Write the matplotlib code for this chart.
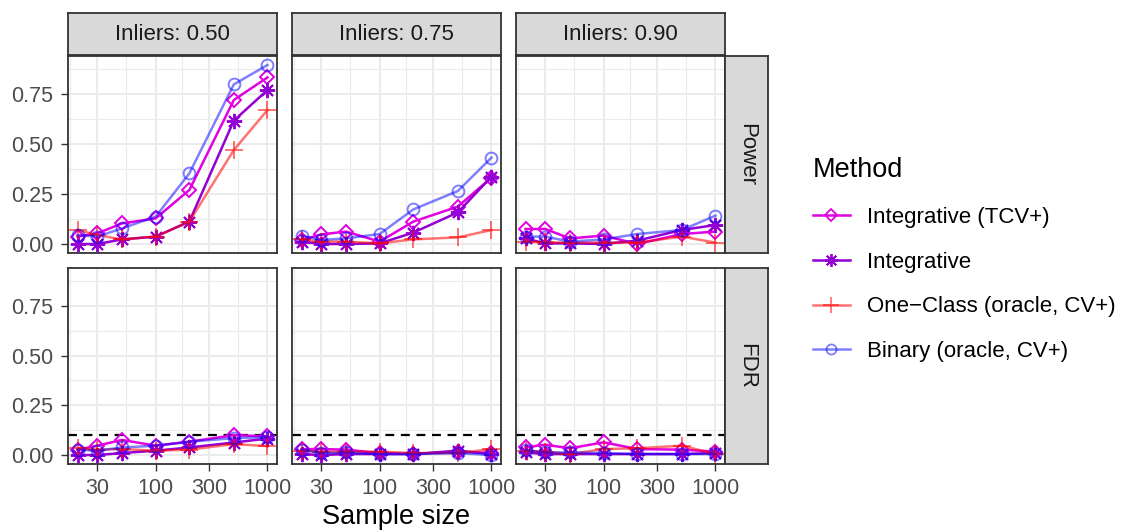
import numpy as np
import matplotlib
matplotlib.use("Agg")
import matplotlib.pyplot as plt
from matplotlib.lines import Line2D

plt.rcParams['font.family'] = ['Liberation Sans', 'DejaVu Sans']

# DATA
sample_sizes = [20, 30, 50, 100, 200, 500, 1000]
inliers = ["0.50", "0.75", "0.90"]
metrics = ["Power", "FDR"]
methods = ["Integrative (TCV+)", "Integrative", "One\u2212Class (oracle, CV+)", "Binary (oracle, CV+)"]

# Power, one list per inlier proportion
power_tcv = [[0.037, 0.053, 0.103, 0.128, 0.27, 0.72, 0.833],
             [0.02, 0.048, 0.062, 0.012, 0.112, 0.187, 0.332],
             [0.075, 0.075, 0.028, 0.042, 0.0, 0.05, 0.062]]
power_int = [[0.0, 0.0, 0.023, 0.037, 0.112, 0.617, 0.77],
             [0.012, 0.0, 0.0, 0.003, 0.057, 0.158, 0.337],
             [0.028, 0.003, 0.003, 0.0, 0.017, 0.07, 0.095]]
power_oc = [[0.07, 0.045, 0.023, 0.037, 0.112, 0.47, 0.67],
            [0.023, 0.012, 0.012, 0.003, 0.023, 0.033, 0.07],
            [0.012, 0.008, 0.007, 0.007, 0.007, 0.037, 0.007]]
power_bin = [[0.045, 0.037, 0.078, 0.137, 0.353, 0.798, 0.895],
             [0.042, 0.02, 0.028, 0.05, 0.173, 0.265, 0.432],
             [0.037, 0.037, 0.012, 0.023, 0.05, 0.07, 0.142]]

# FDR
fdr_tcv = [[0.027, 0.047, 0.076, 0.047, 0.067, 0.1, 0.094],
           [0.03, 0.03, 0.027, 0.01, 0.005, 0.017, 0.01],
           [0.039, 0.052, 0.034, 0.064, 0.03, 0.027, 0.017]]
fdr_int = [[0.0, 0.0, 0.01, 0.022, 0.038, 0.063, 0.083],
           [0.005, 0.0, 0.005, 0.005, 0.005, 0.022, 0.005],
           [0.013, 0.005, 0.005, 0.005, 0.005, 0.005, 0.01]]
fdr_oc = [[0.035, 0.027, 0.03, 0.022, 0.027, 0.055, 0.045],
          [0.022, 0.017, 0.017, 0.017, 0.01, 0.01, 0.03],
          [0.022, 0.017, 0.005, 0.03, 0.034, 0.047, 0.005]]
fdr_bin = [[0.027, 0.022, 0.038, 0.047, 0.067, 0.085, 0.09],
           [0.027, 0.01, 0.013, 0.005, 0.005, 0.01, 0.0],
           [0.025, 0.013, 0.013, 0.01, 0.005, 0.005, 0.005]]

fdr_level = 0.1

series = {
    "Power": [power_tcv, power_int, power_oc, power_bin],
    "FDR": [fdr_tcv, fdr_int, fdr_oc, fdr_bin],
}

# STYLES
colors = ["#E000E0", "#9400D3", "red", "blue"]
alphas = [1.0, 1.0, 0.55, 0.5]
markers = ["D", (8, 2, 0), "+", "o"]
msizes = [7.5, 11, 13, 8.5]

W, H = 1123, 531
fig = plt.figure(figsize=(W / 100, H / 100), dpi=100)


def add_px_axes(left, top, right, bottom):
    return fig.add_axes([left / W, 1 - bottom / H, (right - left) / W, (bottom - top) / H])


panel_left = [68, 292, 516]
panel_w = 209
row_top = [56, 268]
row_bottom = [253, 464]
edge = "#333333"

xmin, xmax = 10 ** (np.log10(20) - 0.085), 10 ** (3 + 0.085)
ymin, ymax = -0.045, 0.94

for r, metric in enumerate(metrics):
    for c in range(3):
        ax = add_px_axes(panel_left[c], row_top[r], panel_left[c] + panel_w, row_bottom[r])
        ax.set_xscale("log")
        ax.set_xlim(xmin, xmax)
        ax.set_ylim(ymin, ymax)

        # grid like theme_bw
        for v in [17.3, 54.8, 173.2, 547.7]:
            ax.axvline(v, color="#EBEBEB", lw=0.8, zorder=0)
        for v in [0.125, 0.375, 0.625, 0.875]:
            ax.axhline(v, color="#EBEBEB", lw=0.8, zorder=0)
        for v in [30, 100, 300, 1000]:
            ax.axvline(v, color="#EBEBEB", lw=1.5, zorder=0)
        for v in [0, 0.25, 0.5, 0.75]:
            ax.axhline(v, color="#EBEBEB", lw=1.5, zorder=0)

        if metric == "FDR":
            ax.axhline(fdr_level, color="black", lw=1.6, ls=(0, (4, 3)), zorder=1)

        for k in range(4):
            ax.plot(sample_sizes, series[metric][k][c], color=colors[k], alpha=alphas[k],
                    lw=1.8, marker=markers[k], ms=msizes[k], mfc="none", mew=1.4, zorder=2 + k)

        ax.set_xticks([30, 100, 300, 1000])
        ax.xaxis.set_minor_locator(matplotlib.ticker.NullLocator())
        ax.set_yticks([0, 0.25, 0.5, 0.75])
        ax.tick_params(length=4.8, width=1, color=edge, labelsize=15.5, labelcolor="#4D4D4D", pad=5)
        ax.tick_params(axis="y", pad=6)
        if r == 1:
            ax.set_xticklabels(["30", "100", "300", "1000"])
        else:
            ax.set_xticklabels([])
            ax.tick_params(axis="x", length=0)
        if c == 0:
            ax.set_yticklabels(["0.00", "0.25", "0.50", "0.75"])
        else:
            ax.set_yticklabels([])
            ax.tick_params(axis="y", length=0)
        for s in ax.spines.values():
            s.set_color(edge)
            s.set_linewidth(1.3)

# top strips
for c in range(3):
    st = add_px_axes(panel_left[c], 13, panel_left[c] + panel_w, 55)
    st.set_facecolor("#D9D9D9")
    st.set_xticks([])
    st.set_yticks([])
    for s in st.spines.values():
        s.set_color(edge)
        s.set_linewidth(1.3)
    st.text(0.5, 0.5, f"Inliers: {inliers[c]}", ha="center", va="center",
            fontsize=16, color="#1A1A1A", transform=st.transAxes)

# right strips
for r, metric in enumerate(metrics):
    st = add_px_axes(725, row_top[r], 768, row_bottom[r])
    st.set_facecolor("#D9D9D9")
    st.set_xticks([])
    st.set_yticks([])
    for s in st.spines.values():
        s.set_color(edge)
        s.set_linewidth(1.3)
    st.text(0.5, 0.5, metric, ha="center", va="center", rotation=-90,
            fontsize=16, color="#1A1A1A", transform=st.transAxes)

fig.text(396.5 / W, 1 - 517 / H, "Sample size", ha="center", va="center", fontsize=19.5)

# legend
handles = [Line2D([], [], color=colors[k], alpha=alphas[k], lw=1.8, marker=markers[k],
                  ms=msizes[k] * 0.85, mfc="none", mew=1.3) for k in range(4)]
leg = fig.legend(handles, methods, loc="upper left", bbox_to_anchor=(793 / W, 1 - 137 / H),
                 frameon=False, fontsize=16, title="Method", title_fontsize=19.5,
                 alignment="left", handlelength=1.65, handletextpad=0.8, labelspacing=1.07)

fig.savefig("out.png", dpi=100)
